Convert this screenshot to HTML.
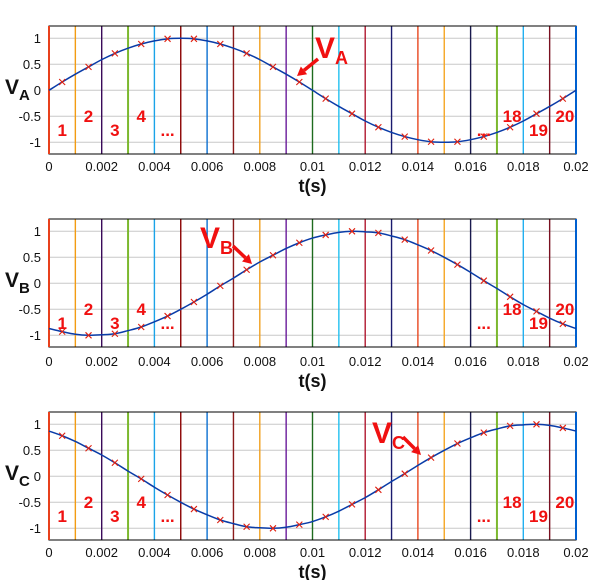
<!DOCTYPE html>
<html><head><meta charset="utf-8"><style>
body{margin:0;background:#fff;}
svg{display:block;font-family:"Liberation Sans",Arial,sans-serif;}
</style></head><body>
<svg id="chart" width="600" height="580" viewBox="0 0 600 580" xmlns="http://www.w3.org/2000/svg"></svg>
<script>
const tTicks = [0,0.002,0.004,0.006,0.008,0.01,0.012,0.014,0.016,0.018,0.02];
const tTickLabels = ["0","0.002","0.004","0.006","0.008","0.01","0.012","0.014","0.016","0.018","0.02"];
const yTicks = [1,0.5,0,-0.5,-1];
const yTickLabels = ["1","0.5","0","-0.5","-1"];
const sampleTimes = [0,0.0005,0.001,0.0015,0.002,0.0025,0.003,0.0035,0.004,0.0045,0.005,0.0055,0.006,0.0065,0.007,0.0075,0.008,0.0085,0.009,0.0095,0.01,0.0105,0.011,0.0115,0.012,0.0125,0.013,0.0135,0.014,0.0145,0.015,0.0155,0.016,0.0165,0.017,0.0175,0.018,0.0185,0.019,0.0195,0.02];
const vA = [0,.16,.31,.45,.59,.71,.81,.89,.95,.99,1,.99,.95,.89,.81,.71,.59,.45,.31,.16,0,-.16,-.31,-.45,-.59,-.71,-.81,-.89,-.95,-.99,-1,-.99,-.95,-.89,-.81,-.71,-.59,-.45,-.31,-.16,0];
const vB = [-.87,-.93,-.98,-1,-.99,-.97,-.91,-.84,-.74,-.63,-.5,-.36,-.21,-.05,.10,.26,.41,.54,.67,.78,.87,.93,.98,1,.99,.97,.91,.84,.74,.63,.5,.36,.21,.05,-.10,-.26,-.41,-.54,-.67,-.78,-.87];
const vC = [.87,.78,.67,.54,.41,.26,.10,-.05,-.21,-.36,-.5,-.63,-.74,-.84,-.91,-.97,-.99,-1,-.98,-.93,-.87,-.78,-.67,-.54,-.41,-.26,-.10,.05,.21,.36,.5,.63,.74,.84,.91,.97,.99,1,.98,.93,.87];
const boundaryTimes = [0,0.001,0.002,0.003,0.004,0.005,0.006,0.007,0.008,0.009,0.01,0.011,0.012,0.013,0.014,0.015,0.016,0.017,0.018,0.019,0.02];
const boundaryColors = ['#e8401c','#f39c12','#3a0a5a','#7cb82f','#1aa3e8','#8b0000','#0b6fd0','#8b1a1a','#f0a020','#6a1b9a','#1e6b1e','#22c0f0','#b01830','#1a1a6e','#e84820','#f5a623','#1a1a4e','#7cb82f','#22b0f0','#7a1020','#0060d0'];
const intervalLabels = ["1","2","3","4","...","...","18","19","20"];
const intervalTimes = [0.0005,0.0015,0.0025,0.0035,0.0045,0.0165,0.0175,0.0185,0.0195];
const intervalHigh = [false,true,false,true,false,false,true,false,true];

const NS='http://www.w3.org/2000/svg';
const svg=document.getElementById('chart');
function mk(tag,attrs,parent){const e=document.createElementNS(NS,tag);for(const k in attrs)e.setAttribute(k,attrs[k]);(parent||svg).appendChild(e);return e;}
const X0=49,X1=576,TMAX=0.02;
const xs=t=>X0+(t/TMAX)*(X1-X0);

const panels=[
 {top:26,data:vA,sub:'A',name:'va',ann:{vx:315,vy:58,ax1:318,ay1:59,ax2:297,ay2:76}},
 {top:219,data:vB,sub:'B',name:'vb',ann:{vx:200,vy:248,ax1:233,ay1:246,ax2:252,ay2:264}},
 {top:412,data:vC,sub:'C',name:'vc',ann:{vx:372,vy:443,ax1:403,ay1:437,ax2:421,ay2:455}}
];
const H=128;

panels.forEach((p,pi)=>{
  const ys=v=>p.top+64.3-v*52;
  const g=mk('g',{});
  
  
  yTicks.forEach((v,i)=>{
    const l=mk('line',{x1:X0,x2:X1,y1:ys(v),y2:ys(v),stroke:'#c8c8c8','stroke-width':1},g);
    
    
    const tx=mk('text',{x:41,y:ys(v)+4.5,'text-anchor':'end','font-size':13,fill:'#111'},g);
    tx.textContent=yTickLabels[i];
    
    
  });
  boundaryTimes.forEach((t,i)=>{
    const l=mk('line',{x1:xs(t),x2:xs(t),y1:p.top,y2:p.top+H,stroke:boundaryColors[i],'stroke-width':(i==3||i==17)?2:1.4},g);
    
    
  });
  const box=mk('rect',{x:X0,y:p.top,width:X1-X0,height:H,fill:'none',stroke:'#000','stroke-width':1},g);
  
  
  mk('line',{x1:X0,x2:X0,y1:p.top,y2:p.top+H,stroke:boundaryColors[0],'stroke-width':2},g);
  mk('line',{x1:X1,x2:X1,y1:p.top,y2:p.top+H,stroke:boundaryColors[20],'stroke-width':2},g);
  const pts=sampleTimes.map((t,i)=>[xs(t),ys(p.data[i])]);
  let d='M'+pts[0][0]+','+pts[0][1];
  for(let i=0;i<pts.length-1;i++){
    const p0=pts[Math.max(0,i-1)],p1=pts[i],p2=pts[i+1],p3=pts[Math.min(pts.length-1,i+2)];
    const c1=[p1[0]+(p2[0]-p0[0])/6,p1[1]+(p2[1]-p0[1])/6];
    const c2=[p2[0]-(p3[0]-p1[0])/6,p2[1]-(p3[1]-p1[1])/6];
    d+=' C'+c1[0]+','+c1[1]+' '+c2[0]+','+c2[1]+' '+p2[0]+','+p2[1];
  }
  const curve=mk('path',{d:d,fill:'none',stroke:'#0a3ca8','stroke-width':1.5},g);
  
  
  pts.forEach((q,i)=>{
    if(i%2===1){
      const m=mk('path',{d:`M${q[0]-3},${q[1]-3}L${q[0]+3},${q[1]+3}M${q[0]-3},${q[1]+3}L${q[0]+3},${q[1]-3}`,stroke:'#e02010','stroke-width':1.1},g);
      
      
    }
  });
  const tickY=pi===0?171:(pi===1?366:557);
  tTicks.forEach((t,i)=>{
    const tx=mk('text',{x:xs(t),y:tickY,'text-anchor':'middle','font-size':13,fill:'#111'},g);
    tx.textContent=tTickLabels[i];
    
    
  });
  const xl=mk('text',{x:xs(0.01),y:tickY+21,'text-anchor':'middle','font-size':18,'font-weight':'bold',fill:'#111'},g);
  xl.textContent='t(s)';
  
  
  const yl=mk('text',{x:5,y:p.top+68,'font-size':21,'font-weight':'bold',fill:'#111'},g);
  yl.innerHTML='V<tspan font-size="15" dy="6">'+p.sub+'</tspan>';
  
  
  intervalTimes.forEach((t,i)=>{
    const tx=mk('text',{x:xs(t)+(i>=6?2:0),y:p.top+(intervalHigh[i]?96:110),'text-anchor':'middle','font-size':17,'font-weight':'bold',fill:'#f01010'},g);
    tx.textContent=intervalLabels[i];
    
    
  });
  const a=p.ann;
  const at=mk('text',{x:a.vx,y:a.vy,'font-size':30,'font-weight':'bold',fill:'#f01010'},g);
  at.innerHTML='V<tspan font-size="18" dy="6">'+p.sub+'</tspan>';
  
  
  const ang=Math.atan2(a.ay2-a.ay1,a.ax2-a.ax1);
  const hx=a.ax2-9*Math.cos(ang),hy=a.ay2-9*Math.sin(ang);
  mk('line',{x1:a.ax1,y1:a.ay1,x2:hx,y2:hy,stroke:'#f01010','stroke-width':3.5},g);
  const px=-Math.sin(ang),py=Math.cos(ang);
  const ah=mk('polygon',{points:`${a.ax2},${a.ay2} ${hx+5*px},${hy+5*py} ${hx-5*px},${hy-5*py}`,fill:'#f01010'},g);
  
  
});
</script>
</body></html>
